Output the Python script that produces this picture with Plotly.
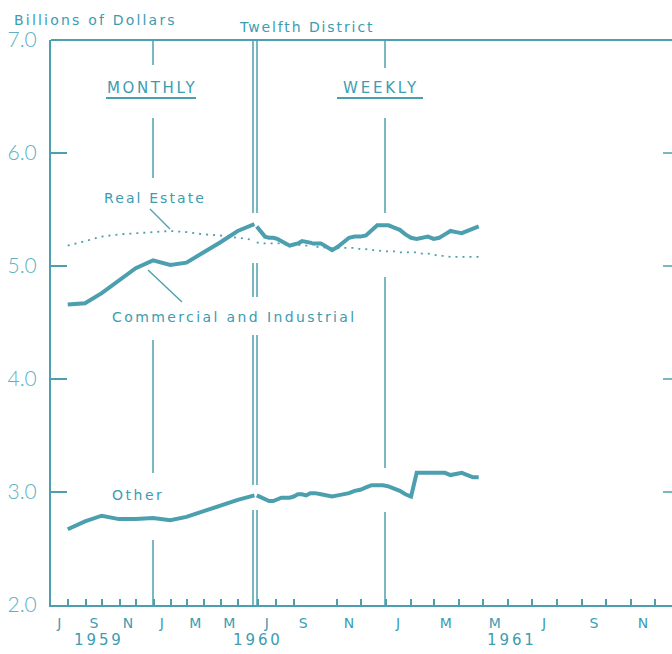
import plotly.graph_objects as go
import pandas as pd

# ---------------- data (billions of dollars) ----------------
monthly_dates = ["1959-07-31", "1959-08-31", "1959-09-30", "1959-10-31", "1959-11-30", "1959-12-31",
                 "1960-01-31", "1960-02-29", "1960-03-31", "1960-04-30", "1960-05-31", "1960-06-30"]
ci_monthly = [4.66, 4.67, 4.76, 4.87, 4.98, 5.05, 5.01, 5.03, 5.12, 5.21, 5.31, 5.37]
re_monthly = [5.18, 5.22, 5.26, 5.28, 5.29, 5.30, 5.31, 5.30, 5.28, 5.27, 5.25, 5.23]
other_monthly = [2.67, 2.74, 2.79, 2.76, 2.76, 2.77, 2.75, 2.78, 2.83, 2.88, 2.93, 2.97]

weekly_dates = list(pd.date_range("1960-06-29", "1961-04-26", freq="7D").strftime("%Y-%m-%d"))
ci_weekly = [5.35, 5.30, 5.26, 5.25, 5.25, 5.24, 5.22, 5.19, 5.18, 5.19, 5.20, 5.22, 5.21, 5.20,
             5.20, 5.20, 5.17, 5.14, 5.17, 5.21, 5.25, 5.26, 5.26, 5.27, 5.31, 5.36, 5.36,
             5.36, 5.34, 5.32, 5.28, 5.25, 5.24, 5.25, 5.26, 5.24, 5.25, 5.28, 5.31, 5.30, 5.29, 5.31, 5.33, 5.35]
re_weekly = [5.21, 5.20, 5.20, 5.20, 5.20, 5.20, 5.20, 5.19, 5.19, 5.19, 5.19, 5.18, 5.18, 5.18,
             5.17, 5.17, 5.16, 5.16, 5.16, 5.16, 5.16, 5.16, 5.15, 5.15, 5.14, 5.14, 5.13,
             5.13, 5.13, 5.12, 5.12, 5.12, 5.12, 5.11, 5.11, 5.10, 5.09, 5.09, 5.08, 5.08, 5.08, 5.08, 5.08, 5.08]
other_weekly = [2.97, 2.95, 2.93, 2.92, 2.92, 2.94, 2.95, 2.95, 2.95, 2.96, 2.98, 2.98, 2.97, 2.99,
                2.99, 2.98, 2.97, 2.96, 2.97, 2.98, 2.99, 3.01, 3.02, 3.04, 3.06, 3.06, 3.06,
                3.05, 3.03, 3.01, 2.98, 2.96, 3.17, 3.17, 3.17, 3.17, 3.17, 3.17, 3.15, 3.16, 3.17, 3.15, 3.13, 3.13]

y_tickvals = [2, 3, 4, 5, 6, 7]
y_ticktext = ["2.0", "3.0", "4.0", "5.0", "6.0", "7.0"]

month_letters = {1: "J", 3: "M", 5: "M", 7: "J", 9: "S", 11: "N"}

# ---------------- styling ----------------
TEAL = "#3d9cb0"
LINE = "#4c9fae"
LIGHT = "#5db1c1"
W, H = 672, 654


def px(x):
    return x / W


def py(y):
    return 1 - y / H


# axis segments: monthly | weekly (Jul-Sep 1960, drawn compressed) | weekly (Oct 1960 on)
axes_def = [
    ("1959-07-01", "1960-07-01", 51, 255),
    ("1960-06-26", "1960-10-01", 255, 312),
    ("1960-10-01", "1961-12-22", 312, 672),
]

fig = go.Figure()

split = "1960-10-01"
w2 = [i for i, d in enumerate(weekly_dates) if d < split]
w2 = w2 + [w2[-1] + 1]
w3 = [i for i, d in enumerate(weekly_dates) if d >= split]
w3 = [w3[0] - 1] + w3


def add_series(vals_m, vals_w, thick):
    line = dict(color=LINE, width=4) if thick else dict(color=LINE, width=1.8, dash="2px,5px")
    fig.add_trace(go.Scatter(x=monthly_dates, y=vals_m, mode="lines", line=line,
                             xaxis="x", yaxis="y", showlegend=False, hoverinfo="skip"))
    fig.add_trace(go.Scatter(x=[weekly_dates[i] for i in w2], y=[vals_w[i] for i in w2], mode="lines",
                             line=line, xaxis="x2", yaxis="y", showlegend=False, hoverinfo="skip"))
    fig.add_trace(go.Scatter(x=[weekly_dates[i] for i in w3], y=[vals_w[i] for i in w3], mode="lines",
                             line=line, xaxis="x3", yaxis="y", showlegend=False, hoverinfo="skip"))


add_series(re_monthly, re_weekly, False)
add_series(ci_monthly, ci_weekly, True)
add_series(other_monthly, other_weekly, True)

layout_axes = {}
for k, (a, b, p0, p1) in enumerate(axes_def):
    starts = list(pd.date_range(a, b, freq="MS"))
    starts = [s for s in starts if pd.Timestamp(a) < s < pd.Timestamp(b)]
    mids = [s + pd.Timedelta(days=15) for s in pd.date_range(pd.Timestamp(a).replace(day=1), b, freq="MS")]
    mids = [m for m in mids if pd.Timestamp(a) < m < pd.Timestamp(b) and m.month in month_letters]
    name = "xaxis" if k == 0 else f"xaxis{k + 1}"
    layout_axes[name] = dict(
        type="date", range=[a, b], domain=[px(p0), px(p1)], anchor="y",
        showline=True, linecolor=LINE, linewidth=2, showgrid=False, zeroline=False,
        ticks="", tickmode="array", automargin=False,
        tickvals=[m.strftime("%Y-%m-%d") for m in mids],
        ticktext=[month_letters[m.month] for m in mids],
        tickfont=dict(family="DejaVu Sans", size=14, color=TEAL),
        ticklabelstandoff=4,
        minor=dict(tickmode="array", tickvals=[s.strftime("%Y-%m-%d") for s in starts],
                   ticks="inside", ticklen=6, tickwidth=1.5, tickcolor=LINE, showgrid=False),
        fixedrange=True,
    )

fig.update_layout(
    width=W, height=H, margin=dict(l=0, r=0, t=0, b=0, pad=0, autoexpand=False),
    paper_bgcolor="white", plot_bgcolor="white",
    yaxis=dict(range=[2, 7], domain=[py(605), py(40)], anchor="x", automargin=False,
               tickmode="array", tickvals=y_tickvals, ticktext=y_ticktext,
               ticks="inside", ticklen=16, tickwidth=1.5, tickcolor=LINE,
               showline=True, linecolor=LINE, linewidth=2, showgrid=False, zeroline=False,
               tickfont=dict(family="Lato", size=21, color=LIGHT, weight=300),
               ticklabelstandoff=8, fixedrange=True),
    **layout_axes,
)

shapes = []


def seg(x0, y0, x1, y1, width=1.5):
    shapes.append(dict(type="line", xref="paper", yref="paper", x0=px(x0), y0=py(y0), x1=px(x1), y1=py(y1),
                       line=dict(color=LINE, width=width)))


# top border
seg(51, 40, 672, 40, 2)
# period dividers
for y0, y1 in [(40, 65), (118, 178), (340, 473), (540, 605)]:
    seg(153, y0, 153, y1)
for xx in (253, 257):
    for y0, y1 in [(40, 213), (263, 297), (335, 485), (510, 605)]:
        seg(xx, y0, xx, y1)
for y0, y1 in [(40, 68), (118, 213), (277, 468), (512, 605)]:
    seg(385, y0, 385, y1)
# underlines
seg(106, 98, 196, 98, 2)
seg(337, 98, 423, 98, 2)
# pointer lines
seg(150, 209, 170, 229, 1.3)
seg(148, 270, 182, 302, 1.3)
# right-side ticks (axis beyond the picture edge)
for v in [3, 4, 5, 6]:
    shapes.append(dict(type="line", xref="paper", yref="y", x0=px(663), x1=1.0, y0=v, y1=v,
                       line=dict(color=LINE, width=1.5)))
fig.update_layout(shapes=shapes)


def label(text, x, y, size=13, anchor="center", spacing=2, color=TEAL):
    fig.add_annotation(text=f'<span style="letter-spacing:{spacing}px">{text}</span>',
                       xref="paper", yref="paper", x=px(x), y=py(y), xanchor=anchor, yanchor="middle",
                       showarrow=False, font=dict(family="DejaVu Sans", size=size, color=color))


label("Billions of Dollars", 12, 20, 14, "left", 2.2)
label("Twelfth District", 237, 27, 14, "left", 1.9)
label("MONTHLY", 152, 88, 15, "center", 2.6)
label("WEEKLY", 381, 88, 15, "center", 2.8)
label("Real Estate", 155, 198, 14, "center", 2.1)
label("Commercial and Industrial", 110, 317, 14, "left", 2.4)
label("Other", 110, 495, 14, "left", 2.5)
label("1959", 99, 640, 15, "center", 2.9)
label("1960", 258, 640, 15, "center", 2.9)
label("1961", 512, 640, 15, "center", 2.9)

fig.write_html("out.html", config={"displayModeBar": False},
               post_script="document.body.style.margin='0';document.body.style.overflow='hidden';")
